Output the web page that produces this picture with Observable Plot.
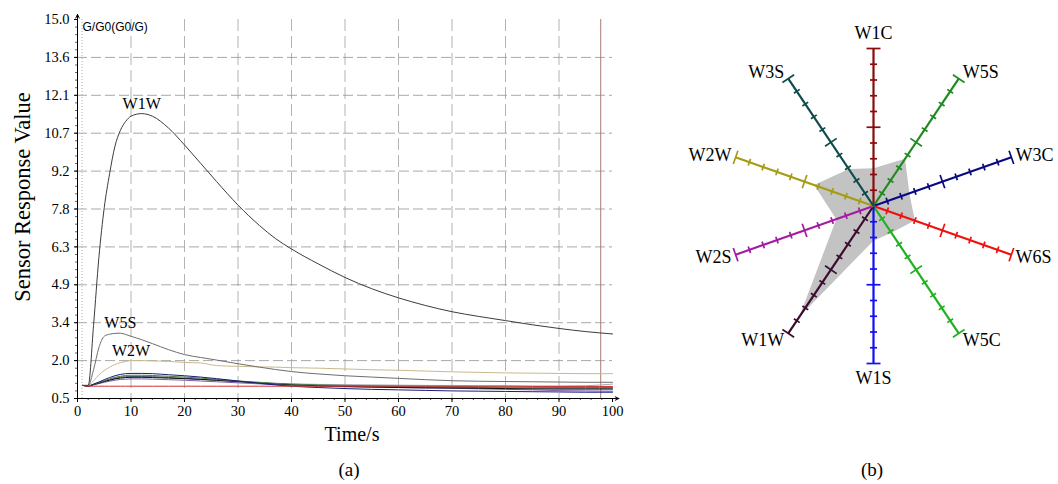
<!DOCTYPE html>
<html>
<head>
<meta charset="utf-8">
<script src="https://cdn.jsdelivr.net/npm/d3@7"></script>
<script src="https://cdn.jsdelivr.net/npm/@observablehq/plot@0.6"></script>
<style>
  body { margin: 0; background: #fff; }
  #fig { position: relative; width: 1058px; height: 484px; font-family: "Liberation Serif", "Times New Roman", serif; color: #000; }
  #panelA { position: absolute; left: 0; top: 0; }
  #panelB { position: absolute; left: 680px; top: 0; }
  .cap { position: absolute; top: 458px; font-size: 19px; transform: translateX(-50%); line-height: 24px; }
</style>
</head>
<body>
<div id="fig">
  <div id="panelA"></div>
  <div id="panelB"></div>
  <div class="cap" style="left:349px">(a)</div>
  <div class="cap" style="left:872px">(b)</div>
</div>
<script>
// ---------- (a) sensor response curves ----------
const time = [1, 2, 3, 4, 5, 6, 7, 8, 9, 10, 12, 14, 17, 20, 23, 26, 30, 34, 37, 40, 45, 50, 55, 60, 65, 70, 75, 80, 85, 90, 95, 100];

const w1w = [1.0, 1.0, 3.3, 5.9, 7.8, 9.1, 10.15, 10.75, 11.1, 11.3, 11.4, 11.3, 10.85, 10.2, 9.5, 8.8, 7.9, 7.12, 6.62, 6.22, 5.65, 5.13, 4.7, 4.35, 4.06, 3.82, 3.64, 3.48, 3.32, 3.18, 3.06, 2.97];
const w5s = [1.0, 1.0, 1.6, 2.45, 2.88, 2.96, 2.99, 3.0, 2.95, 2.88, 2.75, 2.6, 2.37, 2.18, 2.07, 1.97, 1.83, 1.7, 1.61, 1.53, 1.44, 1.37, 1.32, 1.27, 1.22, 1.18, 1.16, 1.15, 1.14, 1.13, 1.12, 1.12];
const w2w = [1.0, 1.0, 1.18, 1.4, 1.57, 1.7, 1.8, 1.87, 1.92, 1.95, 1.95, 1.94, 1.92, 1.88, 1.86, 1.76, 1.73, 1.71, 1.7, 1.68, 1.66, 1.63, 1.6, 1.58, 1.55, 1.52, 1.5, 1.48, 1.47, 1.46, 1.45, 1.45];
const w1s = [1.0, 0.98, 1.05, 1.13, 1.22, 1.3, 1.37, 1.42, 1.45, 1.46, 1.46, 1.45, 1.41, 1.37, 1.32, 1.26, 1.17, 1.08, 1.02, 0.97, 0.92, 0.88, 0.85, 0.83, 0.81, 0.79, 0.78, 0.77, 0.76, 0.75, 0.74, 0.74];
const w2s = [1.0, 0.98, 1.04, 1.11, 1.18, 1.25, 1.31, 1.35, 1.38, 1.39, 1.39, 1.38, 1.35, 1.32, 1.28, 1.23, 1.17, 1.12, 1.08, 1.05, 1.02, 1.0, 0.99, 0.98, 0.97, 0.96, 0.95, 0.94, 0.93, 0.92, 0.92, 0.92];
const w3c = [1.0, 0.98, 1.03, 1.09, 1.15, 1.2, 1.25, 1.28, 1.3, 1.31, 1.31, 1.3, 1.28, 1.26, 1.23, 1.2, 1.15, 1.1, 1.06, 1.03, 0.99, 0.96, 0.94, 0.92, 0.91, 0.9, 0.89, 0.88, 0.87, 0.86, 0.86, 0.86];
const w5c = [1.0, 0.98, 1.02, 1.07, 1.12, 1.16, 1.2, 1.23, 1.24, 1.25, 1.25, 1.24, 1.22, 1.2, 1.17, 1.14, 1.1, 1.06, 1.03, 1.0, 0.97, 0.95, 0.93, 0.92, 0.9, 0.89, 0.87, 0.85, 0.83, 0.8, 0.79, 0.78];
const w1c = [1.0, 0.98, 1.04, 1.1, 1.17, 1.23, 1.28, 1.32, 1.34, 1.35, 1.35, 1.34, 1.31, 1.27, 1.23, 1.19, 1.14, 1.1, 1.08, 1.06, 1.04, 1.03, 1.02, 1.01, 1.0, 1.0, 0.99, 0.99, 0.98, 0.98, 0.99, 1.05];
const w3s = [1.0, 0.98, 1.03, 1.1, 1.16, 1.22, 1.27, 1.31, 1.33, 1.34, 1.34, 1.33, 1.3, 1.27, 1.24, 1.2, 1.15, 1.1, 1.06, 1.03, 1.0, 0.98, 0.96, 0.95, 0.94, 0.93, 0.92, 0.91, 0.9, 0.89, 0.89, 0.89];
const w6s = [1.0, 0.97, 0.97, 0.97, 0.97, 0.97, 0.97, 0.97, 0.97, 0.97, 0.97, 0.97, 0.97, 0.97, 0.97, 0.97, 0.97, 0.97, 0.97, 0.97, 0.97, 0.97, 0.97, 0.97, 0.97, 0.97, 0.97, 0.97, 0.96, 0.96, 0.96, 0.96];

// drawing order: background curves first, labelled curves on top
const curves = [
  {name: "W1C", values: w1c, color: "#a9a9a9"},
  {name: "W3S", values: w3s, color: "#3d6470"},
  {name: "W5C", values: w5c, color: "#7f5aa8"},
  {name: "W3C", values: w3c, color: "#111111"},
  {name: "W2S", values: w2s, color: "#4e7d4e"},
  {name: "W1S", values: w1s, color: "#1c1c7a"},
  {name: "W6S", values: w6s, color: "#cc3333"},
  {name: "W2W", values: w2w, color: "#c9b98c", label: true},
  {name: "W5S", values: w5s, color: "#6e6e6e", label: true},
  {name: "W1W", values: w1w, color: "#3c3c3c", label: true}
];

const xDomain = [0, 100];
const yDomain = [0.5, 15.0];
const xTicks = [0, 10, 20, 30, 40, 50, 60, 70, 80, 90, 100];
const xMinorTicks = d3.range(0, 101, 2);
const xGrid = [10, 20, 30, 40, 50, 60, 70, 80, 90];
const yTicks = [0.5, 1.95, 3.4, 4.85, 6.3, 7.75, 9.2, 10.65, 12.1, 13.55, 15.0];
const yTickLabels = ["0.5", "2.0", "3.4", "4.9", "6.3", "7.8", "9.2", "10.7", "12.1", "13.6", "15.0"];
const yMinorTicks = d3.range(0, 51).map(k => yDomain[0] + k * 0.29);
const baselineTime = 0.85;   // dotted marker of the sampling start
const cursorTime = 97.8;     // cursor line

const yLabelOf = new Map(yTicks.map((v, i) => [v, yTickLabels[i]]));

const curveMarks = curves.map(c =>
  Plot.line(time, {x: time, y: c.values, stroke: c.color, strokeWidth: 1, curve: "monotone-x"})
);
const labelMarks = curves.filter(c => c.label).map(c => {
  const i = d3.maxIndex(c.values);
  return Plot.text([c.name], {
    x: () => time[i], y: () => c.values[i], text: d => d,
    dy: -10, fontSize: 16, fill: "#000", lineAnchor: "middle"
  });
});

const chartA = Plot.plot({
  width: 640,
  height: 450,
  marginLeft: 77,
  marginRight: 28,
  marginTop: 19,
  marginBottom: 52,
  style: {fontFamily: "'Liberation Serif', 'Times New Roman', serif", fontSize: "14.5px", color: "#000", background: "#fff"},
  x: {domain: xDomain, axis: null},
  y: {domain: yDomain, axis: null},
  marks: [
    Plot.gridY(yTicks.slice(1, -1), {stroke: "#9a9a9a", strokeOpacity: 0.85, strokeDasharray: "10,4"}),
    Plot.gridX(xGrid, {stroke: "#9a9a9a", strokeOpacity: 0.75, strokeDasharray: "12,5"}),
    Plot.ruleX([baselineTime], {stroke: "#aaa", strokeDasharray: "1,2"}),
    Plot.ruleX([cursorTime], {y1: yDomain[0], y2: yDomain[1], stroke: "#a87a70", strokeWidth: 1}),
    ...curveMarks,
    Plot.arrow([0], {x1: xDomain[0], y1: yDomain[0], x2: xDomain[1] * 1.012, y2: yDomain[0], stroke: "#000", strokeWidth: 1, headLength: 6, headAngle: 50}),
    Plot.arrow([0], {x1: xDomain[0], y1: yDomain[0], x2: xDomain[0], y2: yDomain[1] * 1.013, stroke: "#000", strokeWidth: 1, headLength: 6, headAngle: 50}),
    Plot.axisX(xMinorTicks, {tickSize: 2, tickFormat: () => "", strokeOpacity: 0.7}),
    Plot.axisY(yMinorTicks, {tickSize: 2, tickFormat: () => "", strokeOpacity: 0.6}),
    Plot.axisX(xTicks, {tickSize: 4, tickPadding: 3, fontSize: 14.5}),
    Plot.axisY(yTicks, {tickSize: 3, tickPadding: 5, fontSize: 14.5, tickFormat: d => yLabelOf.get(d)}),
    ...labelMarks,
    Plot.text(["G/G0(G0/G)"], {frameAnchor: "top-left", text: d => d, dx: 5, dy: 8, textAnchor: "start", lineAnchor: "middle", fontSize: 12, fontFamily: "'Liberation Sans', Arial, sans-serif"}),
    Plot.text(["Time/s"], {frameAnchor: "bottom", text: d => d, textAnchor: "middle", dx: 7, dy: 36, lineAnchor: "middle", fontSize: 20}),
    Plot.text(["Sensor Response Value"], {frameAnchor: "left", text: d => d, textAnchor: "middle", rotate: -90, dx: -55, dy: -12, lineAnchor: "middle", fontSize: 22.5})
  ]
});
document.getElementById("panelA").append(chartA);

// ---------- (b) radar fingerprint ----------
const sensors = ["W1C", "W5S", "W3C", "W6S", "W5C", "W1S", "W1W", "W2S", "W2W", "W3S"];
const radarValues = [0.24, 0.37, 0.26, 0.30, 0.21, 0.22, 0.87, 0.27, 0.43, 0.29];
const radarColors = ["#8b0a0a", "#1f8a1f", "#0a0a80", "#f01010", "#20b020", "#1010f0", "#3a0d30", "#a21ca2", "#a39c14", "#0f4b4b"];
const ringTicks = [0.1, 0.2, 0.3, 0.4, 0.5, 0.6, 0.7, 0.8, 0.9, 1.0];
const majorTicks = [0.5, 1.0];

const bW = 378, bH = 400;
const bMargin = {left: 48, right: 40, top: 48, bottom: 37};
const kx = (bW - bMargin.left - bMargin.right) / 2;   // px per unit, horizontal
const ky = (bH - bMargin.top - bMargin.bottom) / 2;   // px per unit, vertical
const angle = i => i * 2 * Math.PI / sensors.length;

const spokes = sensors.map((s, i) => ({
  name: s, color: radarColors[i],
  x: Math.sin(angle(i)), y: Math.cos(angle(i))
}));
const polygon = sensors.map((s, i) => ({
  x: radarValues[i] * Math.sin(angle(i)),
  y: radarValues[i] * Math.cos(angle(i))
}));
const tickSegs = spokes.flatMap((sp, i) => ringTicks.map(r => {
  const ux = kx * sp.x, uy = -ky * sp.y, n = Math.hypot(ux, uy);
  const px = -uy / n, py = ux / n;          // screen-space normal
  const h = majorTicks.includes(r) ? 7 : 3.5;
  const cx = r * sp.x, cy = r * sp.y;
  return {
    x1: cx - px * h / kx, y1: cy + py * h / ky,
    x2: cx + px * h / kx, y2: cy - py * h / ky,
    color: sp.color
  };
}));

const labelMarksB = spokes.map(sp => {
  const side = Math.abs(sp.x) < 0.3 ? 0 : Math.sign(sp.x);
  return Plot.text([sp.name], {
    x: () => sp.x, y: () => sp.y, text: d => d,
    textAnchor: side > 0 ? "start" : side < 0 ? "end" : "middle",
    dx: side * 4,
    dy: -sp.y * (side === 0 ? 15 : 8),
    lineAnchor: "middle", fontSize: 18, fill: "#000"
  });
});

const chartB = Plot.plot({
  width: bW,
  height: bH,
  marginLeft: bMargin.left,
  marginRight: bMargin.right,
  marginTop: bMargin.top,
  marginBottom: bMargin.bottom,
  style: {fontFamily: "'Liberation Serif', 'Times New Roman', serif", background: "#fff", overflow: "visible"},
  x: {domain: [-1, 1], axis: null},
  y: {domain: [-1, 1], axis: null},
  color: {type: "identity"},
  marks: [
    Plot.line(polygon, {x: "x", y: "y", fill: "#c3c3c3", stroke: "none", curve: "linear-closed"}),
    Plot.link(spokes, {x1: () => 0, y1: () => 0, x2: "x", y2: "y", stroke: "color", strokeWidth: 2.2}),
    Plot.link(tickSegs, {x1: "x1", y1: "y1", x2: "x2", y2: "y2", stroke: "color", strokeWidth: 1.7}),
    ...labelMarksB
  ]
});
document.getElementById("panelB").append(chartB);
</script>
</body>
</html>
